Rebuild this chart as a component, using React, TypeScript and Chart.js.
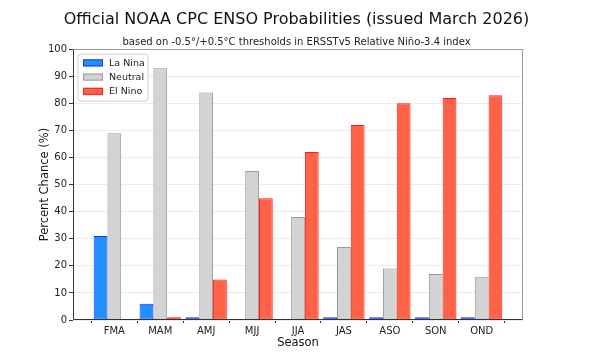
import React, { useEffect, useRef } from "react";
import { Chart, registerables } from "chart.js";

Chart.register(...registerables);

const seasons = ["FMA", "MAM", "AMJ", "MJJ", "JJA", "JAS", "ASO", "SON", "OND"];
const laNina = [31, 6, 1, 0, 0, 1, 1, 1, 1];
const neutral = [69, 93, 84, 55, 38, 27, 19, 17, 16];
const elNino = [0, 1, 15, 45, 62, 72, 80, 82, 83];
const yTicks = [0, 10, 20, 30, 40, 50, 60, 70, 80, 90, 100];

const FONT = "'DejaVu Sans', sans-serif";

const framePlugin = {
  id: "frame",
  afterDraw(chart: any) {
    const { ctx, chartArea } = chart;
    const l = Math.round(chartArea.left) + 0.5;
    const t = Math.round(chartArea.top) + 0.5;
    const r = Math.round(chartArea.right) - 0.5;
    const b = Math.round(chartArea.bottom) - 0.5;
    ctx.save();
    ctx.lineWidth = 1;
    ctx.strokeStyle = "#999";
    ctx.beginPath();
    ctx.moveTo(l, t);
    ctx.lineTo(r, t);
    ctx.lineTo(r, b);
    ctx.stroke();
    ctx.strokeStyle = "#333";
    ctx.beginPath();
    ctx.moveTo(l, t);
    ctx.lineTo(l, b);
    ctx.lineTo(r, b);
    ctx.stroke();

    // legend box
    const x0 = chartArea.left + 5;
    const y0 = chartArea.top + 5;
    const w = 70;
    const h = 47;
    const rad = 3;
    ctx.beginPath();
    ctx.moveTo(x0 + rad, y0);
    ctx.lineTo(x0 + w - rad, y0);
    ctx.quadraticCurveTo(x0 + w, y0, x0 + w, y0 + rad);
    ctx.lineTo(x0 + w, y0 + h - rad);
    ctx.quadraticCurveTo(x0 + w, y0 + h, x0 + w - rad, y0 + h);
    ctx.lineTo(x0 + rad, y0 + h);
    ctx.quadraticCurveTo(x0, y0 + h, x0, y0 + h - rad);
    ctx.lineTo(x0, y0 + rad);
    ctx.quadraticCurveTo(x0, y0, x0 + rad, y0);
    ctx.closePath();
    ctx.fillStyle = "rgba(255,255,255,0.85)";
    ctx.fill();
    ctx.strokeStyle = "#d0d0d0";
    ctx.stroke();

    chart.data.datasets.forEach((ds: any, i: number) => {
      const cy = y0 + 8.7 + i * 14.2;
      ctx.fillStyle = ds.backgroundColor;
      ctx.strokeStyle = ds.borderColor;
      ctx.fillRect(x0 + 5, cy - 3.5, 20, 7);
      ctx.strokeRect(x0 + 5.5, cy - 3, 19, 6);
      ctx.fillStyle = "#222";
      ctx.font = `9.5px ${FONT}`;
      ctx.textBaseline = "middle";
      ctx.textAlign = "left";
      ctx.fillText(ds.label, x0 + 31, cy + 0.5);
    });
    ctx.restore();
  },
};

export default function App() {
  const ref = useRef<HTMLCanvasElement>(null);
  useEffect(() => {
    document.body.style.margin = "0";
    const mk = (vals: number[]) => vals.map((v, i) => ({ x: i, y: v }));
    const chart = new Chart(ref.current as HTMLCanvasElement, {
      type: "bar",
      data: {
        datasets: [
          { label: "La Nina", data: mk(laNina), backgroundColor: "#1e90ff", borderColor: "#2233ee", borderWidth: 1 },
          { label: "Neutral", data: mk(neutral), backgroundColor: "#d3d3d3", borderColor: "#999999", borderWidth: 1 },
          { label: "El Nino", data: mk(elNino), backgroundColor: "#ff6347", borderColor: "#ff1a1a", borderWidth: 1 },
        ],
      },
      options: {
        responsive: false,
        animation: false,
        devicePixelRatio: 1,
        layout: { padding: { left: 0, right: 0, top: 0, bottom: 0 } },
        datasets: { bar: { categoryPercentage: 0.9, barPercentage: 1, borderSkipped: false } },
        plugins: {
          legend: { display: false },
          tooltip: { enabled: false },
          title: {
            display: true,
            text: "Official NOAA CPC ENSO Probabilities (issued March 2026)",
            color: "#111",
            font: { family: FONT, size: 16, weight: "normal", lineHeight: 1.2 },
            padding: { top: 10, bottom: 0 },
          },
          subtitle: {
            display: true,
            text: "based on -0.5°/+0.5°C thresholds in ERSSTv5 Relative Niño-3.4 index",
            color: "#222",
            font: { family: FONT, size: 10, weight: "normal", lineHeight: 1.2 },
            padding: { top: 7, bottom: 1 },
          },
        },
        scales: {
          x: {
            type: "linear",
            min: -0.9,
            max: 8.9,
            offset: false,
            afterBuildTicks: (s: any) => {
              s.ticks = seasons.map((_, i) => ({ value: i }));
            },
            afterFit: (s: any) => {
              s.height = 35;
            },
            ticks: {
              callback: (v: any) => seasons[v as number] ?? "",
              color: "#222",
              font: { family: FONT, size: 10 },
              padding: 2,
              maxRotation: 0,
              autoSkip: false,
            },
            grid: { display: true, drawOnChartArea: false, drawTicks: true, tickLength: 3, tickColor: "#333" },
            border: { display: false },
            title: {
              display: true,
              text: "Season",
              color: "#111",
              font: { family: FONT, size: 11.5, lineHeight: 1.2 },
              padding: { top: 0, bottom: 5 },
            },
          },
          y: {
            min: 0,
            max: 100,
            afterBuildTicks: (s: any) => {
              s.ticks = yTicks.map((v) => ({ value: v }));
            },
            afterFit: (s: any) => {
              s.width = 73;
            },
            ticks: {
              color: "#222",
              font: { family: FONT, size: 10 },
              padding: 2,
            },
            grid: { color: "#ececec", tickColor: "#333", tickLength: 4, drawTicks: true },
            border: { display: false },
            title: {
              display: true,
              text: "Percent Chance (%)",
              color: "#111",
              font: { family: FONT, size: 11.5, lineHeight: 1.2 },
              padding: { top: 38, bottom: 0 },
            },
          },
          yRight: {
            type: "linear",
            position: "right",
            min: 0,
            max: 100,
            display: true,
            ticks: { display: false },
            grid: { display: false, drawTicks: false },
            border: { display: false },
            afterFit: (s: any) => {
              s.width = 70;
            },
          },
        },
      },
      plugins: [framePlugin],
    } as any);
    return () => chart.destroy();
  }, []);
  return <canvas ref={ref} width={593} height={355} style={{ width: 593, height: 355, display: "block" }} />;
}
